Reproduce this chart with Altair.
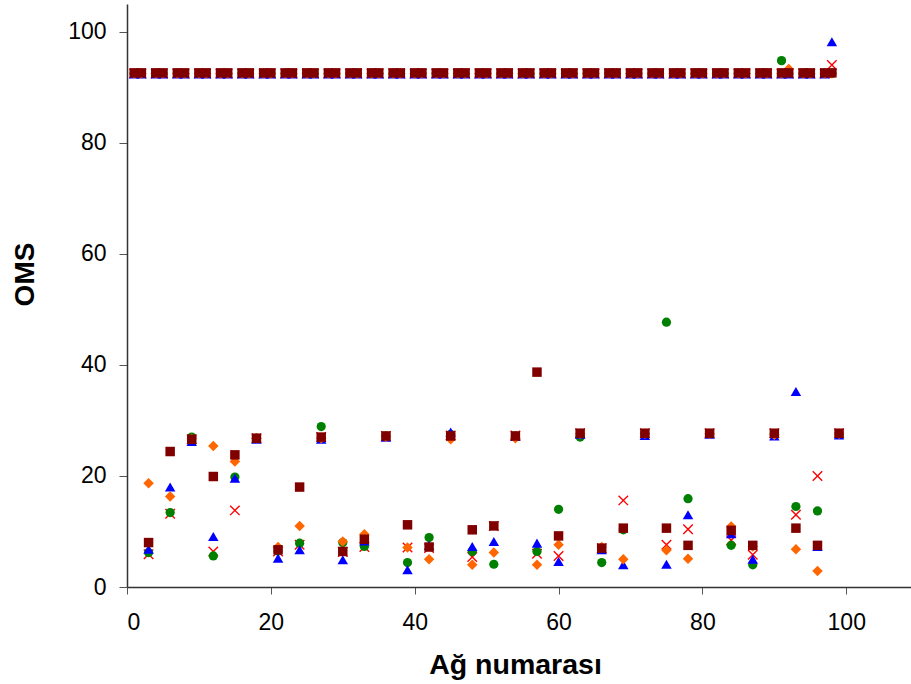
import altair as alt
import pandas as pd

# Network numbers on the upper plateau (x not a multiple of 3) and the lower band (multiples of 3)
top_x = [1, 2, 4, 5, 7, 8, 10, 11, 13, 14, 16, 17, 19, 20, 22, 23, 25, 26, 28, 29, 31, 32,
         34, 35, 37, 38, 40, 41, 43, 44, 46, 47, 49, 50, 52, 53, 55, 56, 58, 59, 61, 62,
         64, 65, 67, 68, 70, 71, 73, 74, 76, 77, 79, 80, 82, 83, 85, 86, 88, 89, 91, 92,
         94, 95, 97, 98]
low_x = [3, 6, 9, 12, 15, 18, 21, 24, 27, 30, 33, 36, 39, 42, 45, 48, 51, 54, 57, 60, 63,
         66, 69, 72, 75, 78, 81, 84, 87, 90, 93, 96, 99]

# Upper plateau values (one per top_x entry)
green_top = [92.5, 92.5, 92.5, 92.5, 92.5, 92.5, 92.5, 92.5, 92.5, 92.5, 92.5, 92.5, 92.5, 92.5,
             92.5, 92.5, 92.5, 92.5, 92.5, 92.5, 92.5, 92.5, 92.5, 92.5, 92.5, 92.5, 92.5, 92.5,
             92.5, 92.5, 92.5, 92.5, 92.5, 92.5, 92.5, 92.5, 92.5, 92.5, 92.5, 92.5, 92.5, 92.5,
             92.5, 92.5, 92.5, 92.5, 92.5, 92.5, 92.5, 92.5, 92.5, 92.5, 92.5, 92.5, 92.5, 92.5,
             92.5, 92.5, 92.5, 92.5, 94.8, 92.5, 92.5, 92.5, 92.5, 92.5]
blue_top = [92.4, 92.4, 92.4, 92.4, 92.4, 92.4, 92.4, 92.4, 92.4, 92.4, 92.4, 92.4, 92.4, 92.4,
            92.4, 92.4, 92.4, 92.4, 92.4, 92.4, 92.4, 92.4, 92.4, 92.4, 92.4, 92.4, 92.4, 92.4,
            92.4, 92.4, 92.4, 92.4, 92.4, 92.4, 92.4, 92.4, 92.4, 92.4, 92.4, 92.4, 92.4, 92.4,
            92.4, 92.4, 92.4, 92.4, 92.4, 92.4, 92.4, 92.4, 92.4, 92.4, 92.4, 92.4, 92.4, 92.4,
            92.4, 92.4, 92.4, 92.4, 92.4, 92.4, 92.4, 92.4, 92.4, 98.2]
orange_top = [92.5, 92.5, 92.5, 92.5, 92.5, 92.5, 92.5, 92.5, 92.5, 92.5, 92.5, 92.5, 92.5, 92.5,
              92.5, 92.5, 92.5, 92.5, 92.5, 92.5, 92.5, 92.5, 92.5, 92.5, 92.5, 92.5, 92.5, 92.5,
              92.5, 92.5, 92.5, 92.5, 92.5, 92.5, 92.5, 92.5, 92.5, 92.5, 92.5, 92.5, 92.5, 92.5,
              92.5, 92.5, 92.5, 92.5, 92.5, 92.5, 92.5, 92.5, 92.5, 92.5, 92.5, 92.5, 92.5, 92.5,
              92.5, 92.5, 92.5, 92.5, 92.5, 93.3, 92.5, 92.5, 92.5, 92.5]
red_top = [92.5, 92.5, 92.5, 92.5, 92.5, 92.5, 92.5, 92.5, 92.5, 92.5, 92.5, 92.5, 92.5, 92.5,
           92.5, 92.5, 92.5, 92.5, 92.5, 92.5, 92.5, 92.5, 92.5, 92.5, 92.5, 92.5, 92.5, 92.5,
           92.5, 92.5, 92.5, 92.5, 92.5, 92.5, 92.5, 92.5, 92.5, 92.5, 92.5, 92.5, 92.5, 92.5,
           92.5, 92.5, 92.5, 92.5, 92.5, 92.5, 92.5, 92.5, 92.5, 92.5, 92.5, 92.5, 92.5, 92.5,
           92.5, 92.5, 92.5, 92.5, 92.5, 92.5, 92.5, 92.5, 92.5, 94.0]
darkred_top = [92.6, 92.6, 92.6, 92.6, 92.6, 92.6, 92.6, 92.6, 92.6, 92.6, 92.6, 92.6, 92.6, 92.6,
               92.6, 92.6, 92.6, 92.6, 92.6, 92.6, 92.6, 92.6, 92.6, 92.6, 92.6, 92.6, 92.6, 92.6,
               92.6, 92.6, 92.6, 92.6, 92.6, 92.6, 92.6, 92.6, 92.6, 92.6, 92.6, 92.6, 92.6, 92.6,
               92.6, 92.6, 92.6, 92.6, 92.6, 92.6, 92.6, 92.6, 92.6, 92.6, 92.6, 92.6, 92.6, 92.6,
               92.6, 92.6, 92.6, 92.6, 92.6, 92.6, 92.6, 92.6, 92.6, 92.6]

# Lower band values (one per low_x entry)
green_low = [6.2, 13.4, 27.0, 5.6, 19.8, 26.8, 6.5, 7.9, 28.9, 8.0, 7.3, 27.2, 4.4, 8.9, 27.5,
             6.4, 4.1, 27.2, 6.4, 14.0, 27.0, 4.4, 10.3, 27.6, 47.7, 15.9, 27.6, 7.5, 4.0, 27.6,
             14.5, 13.7, 27.6]
blue_low = [6.8, 18.0, 26.2, 9.1, 19.6, 26.6, 5.2, 6.7, 26.6, 4.9, 8.3, 27.0, 3.1, 7.5, 27.9,
            7.3, 8.2, 27.1, 7.9, 4.6, 27.5, 6.7, 4.0, 27.3, 4.1, 13.0, 27.5, 9.6, 5.0, 27.2,
            35.2, 7.3, 27.4]
orange_low = [18.7, 16.3, 26.7, 25.4, 22.6, 26.8, 7.2, 11.0, 26.8, 8.2, 9.5, 27.0, 7.1, 5.0, 26.6,
              4.0, 6.2, 26.8, 4.0, 7.6, 27.6, 7.2, 5.0, 27.6, 6.6, 5.1, 27.6, 10.9, 7.3, 27.4,
              6.8, 2.9, 27.6]
red_low = [5.9, 13.2, 26.6, 6.4, 13.8, 26.8, 6.4, 7.6, 27.0, 6.3, 7.2, 27.2, 7.1, 7.0, 27.3,
           5.4, 11.0, 27.3, 6.0, 5.6, 27.7, 7.0, 15.6, 27.7, 7.6, 10.4, 27.7, 8.4, 5.8, 27.7,
           13.0, 20.0, 27.7]
darkred_low = [8.0, 24.4, 26.6, 19.9, 23.8, 26.8, 6.7, 18.0, 27.0, 6.4, 8.6, 27.2, 11.2, 7.2, 27.2,
               10.3, 11.0, 27.2, 38.7, 9.2, 27.7, 7.0, 10.6, 27.7, 10.6, 7.5, 27.7, 10.2, 7.5, 27.7,
               10.6, 7.5, 27.7]

FONT = "Liberation Sans"
X_SHAPE = "M-1,-1L1,1M-1,1L1,-1"

x_scale = alt.Scale(domain=[0, 109], nice=False, zero=False)
y_scale = alt.Scale(domain=[0, 105], nice=False)

x_axis = alt.Axis(values=[0, 20, 40, 60, 80, 100], title="Ağ numarası", grid=False,
                  labelFont=FONT, labelFontSize=23, labelColor="black", labelPadding=17,
                  tickSize=7, tickColor="#555555", domainColor="#333333", domainWidth=1.5,
                  titleFont=FONT, titleFontSize=28.5, titleFontWeight="bold", titleColor="black",
                  titleX=388, titleY=86, titleBaseline="alphabetic", titleAnchor="middle")
y_axis = alt.Axis(values=[0, 20, 40, 60, 80, 100], title="OMS", grid=False,
                  labelFont=FONT, labelFontSize=23, labelColor="black", labelPadding=13,
                  tickSize=8, tickColor="#555555", domainColor="#333333", domainWidth=1.5,
                  titleFont=FONT, titleFontSize=28, titleFontWeight="bold", titleColor="black",
                  titleX=-94, titleY=270, titleBaseline="alphabetic", titleAngle=-90)


def frame(top, low):
    return pd.DataFrame({"x": top_x + low_x, "y": top + low})


def layer(df, **mark):
    return alt.Chart(df).mark_point(**mark).encode(
        x=alt.X("x:Q", scale=x_scale, axis=x_axis),
        y=alt.Y("y:Q", scale=y_scale, axis=y_axis),
    )


red_layer = layer(frame(red_top, red_low), shape=X_SHAPE, filled=False, stroke="#FF0000",
                  strokeWidth=1.4, size=90, opacity=1)
green_layer = layer(frame(green_top, green_low), shape="circle", filled=True, color="#008000",
                    size=85, opacity=1)
blue_layer = layer(frame(blue_top, blue_low), shape="triangle-up", filled=True, color="#0000FF",
                   size=110, opacity=1)
orange_layer = layer(frame(orange_top, orange_low), shape="diamond", filled=True, color="#FF6600",
                     size=110, opacity=1)
darkred_layer = layer(frame(darkred_top, darkred_low), shape="square", filled=True, color="#800000",
                      size=90, opacity=1)

chart = alt.layer(red_layer, green_layer, blue_layer, orange_layer, darkred_layer).properties(
    width=784, height=583,
    autosize=alt.AutoSizeParams(type="none"),
    padding={"left": 127, "top": 4, "right": 0, "bottom": 97},
    background="white",
).configure_view(stroke=None)

chart.save("out.html", embed_options={"renderer": "svg", "actions": False})
